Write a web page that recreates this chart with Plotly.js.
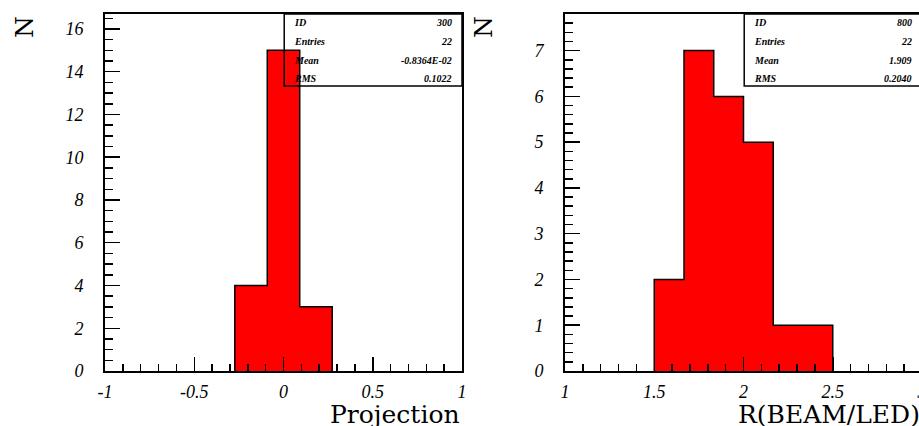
<!DOCTYPE html>
<html>
<head>
<meta charset="utf-8">
<script src="https://cdn.plot.ly/plotly-3.0.1.min.js"></script>
<style>
html,body{margin:0;padding:0;overflow:hidden;background:#fff;}
#chart{width:930px;height:426px;}
</style>
</head>
<body>
<div id="chart"></div>
<script>
// ---- data ----
const binEdges1 = [-0.2727, -0.0909, 0.0909, 0.2727];
const counts1 = [4, 15, 3];
const binEdges2 = [1.5, 1.6667, 1.8333, 2.0, 2.1667, 2.3333, 2.5];
const counts2 = [2, 7, 6, 5, 1, 1];

const xTickVals1 = [-1, -0.5, 0, 0.5, 1];
const xTickText1 = ['-1', '-0.5', '0', '0.5', '1'];
const yTickVals1 = [0, 2, 4, 6, 8, 10, 12, 14, 16];
const yTickText1 = ['0', '2', '4', '6', '8', '10', '12', '14', '16'];
const xTickVals2 = [1, 1.5, 2, 2.5, 3];
const xTickText2 = ['1', '1.5', '2', '2.5', '3'];
const yTickVals2 = [0, 1, 2, 3, 4, 5, 6, 7];
const yTickText2 = ['0', '1', '2', '3', '4', '5', '6', '7'];

const statLabels = ['ID', 'Entries', 'Mean', 'RMS'];
const stats1 = ['300', '22', '-0.8364E-02', '0.1022'];
const stats2 = ['800', '22', '1.909', '0.2040'];

const xTitle1 = 'Projection';
const xTitle2 = 'R(BEAM/LED)';
const yTitle = 'N';

// ---- build ----
function step(edges, counts) {
  const xs = [edges[0]], ys = [0];
  for (let i = 0; i < counts.length; i++) { xs.push(edges[i]); ys.push(counts[i]); }
  xs.push(edges[edges.length - 1]); ys.push(0);
  return {xs, ys};
}
const s1 = step(binEdges1, counts1);
const s2 = step(binEdges2, counts2);

const W = 930, H = 426;
const px = v => v / W;
const py = v => 1 - v / H;

const traces = [
  {x: s1.xs, y: s1.ys, xaxis: 'x', yaxis: 'y', type: 'scatter', mode: 'lines',
   line: {shape: 'hv', color: '#000', width: 1.5}, fill: 'tozeroy', fillcolor: '#ff0000',
   hoverinfo: 'none'},
  {x: s2.xs, y: s2.ys, xaxis: 'x2', yaxis: 'y2', type: 'scatter', mode: 'lines',
   line: {shape: 'hv', color: '#000', width: 1.5}, fill: 'tozeroy', fillcolor: '#ff0000',
   hoverinfo: 'none'}
];

const tickFont = {family: 'Liberation Serif', size: 18, color: '#000', style: 'italic', weight: 400};
function xax(domain, range, vals, text, anchor) {
  return {domain, range, anchor, tickmode: 'array', tickvals: vals, ticktext: text, ticks: 'inside',
    ticklen: 14, tickwidth: 1.5, tickcolor: '#000', showline: true, linecolor: '#000',
    linewidth: 2, mirror: true, showgrid: false, zeroline: false, tickfont: tickFont,
    ticklabelstandoff: 3,
    minor: {dtick: 0.1, tick0: 0, ticks: 'inside', ticklen: 7, tickwidth: 1.5, tickcolor: '#000', showgrid: false}};
}
function yax(domain, range, vals, text, anchor, mdt) {
  return {domain, range, anchor, tickmode: 'array', tickvals: vals, ticktext: text, ticks: 'inside',
    ticklen: 15, tickwidth: 1.5, tickcolor: '#000', showline: true, linecolor: '#000',
    linewidth: 2, mirror: true, showgrid: false, zeroline: false, tickfont: tickFont,
    ticklabelstandoff: 16,
    minor: {dtick: mdt, tick0: 0, ticks: 'inside', ticklen: 8, tickwidth: 1.5, tickcolor: '#000', showgrid: false}};
}

const yd = [py(371), py(14)];
const layout = {
  width: W, height: H, margin: {l: 0, r: 0, t: 0, b: 0},
  font: {family: 'Liberation Serif', size: 18, color: '#000'},
  paper_bgcolor: '#fff', plot_bgcolor: '#fff', showlegend: false,
  xaxis: xax([px(105), px(462)], [-1, 1], xTickVals1, xTickText1, 'y'),
  yaxis: yax(yd, [0, 16.7], yTickVals1, yTickText1, 'x', 0.5),
  xaxis2: xax([px(565), px(922)], [1, 3], xTickVals2, xTickText2, 'y2'),
  yaxis2: yax(yd, [0, 7.8], yTickVals2, yTickText2, 'x2', 0.2),
  shapes: [], annotations: []
};

const titleFont = {family: 'DejaVu Serif', size: 25, color: '#000'};
const statFont = {family: 'Liberation Serif', size: 10, color: '#000', style: 'italic', weight: 'bold'};
const rowY = [0.975, 0.922, 0.870, 0.818];

[['x', 'y', stats1, xTitle1, 24], ['x2', 'y2', stats2, xTitle2, 483]].forEach(([xa, ya, st, xt, nx]) => {
  layout.shapes.push({type: 'rect', xref: xa + ' domain', yref: ya + ' domain',
    x0: 0.502, x1: 1, y0: 0.798, y1: 1, line: {color: '#000', width: 1.5}, fillcolor: 'rgba(0,0,0,0)'});
  statLabels.forEach((lab, i) => {
    layout.annotations.push({xref: xa + ' domain', yref: ya + ' domain', x: 0.525, y: rowY[i],
      xanchor: 'left', yanchor: 'middle', text: lab, showarrow: false, font: statFont});
    layout.annotations.push({xref: xa + ' domain', yref: ya + ' domain', x: 0.977, y: rowY[i],
      xanchor: 'right', yanchor: 'middle', text: st[i], showarrow: false, font: statFont});
  });
  layout.annotations.push({xref: xa + ' domain', yref: 'paper', x: 1, y: py(414),
    xanchor: 'right', yanchor: 'middle', text: xt, showarrow: false, font: titleFont});
  layout.annotations.push({xref: 'paper', yref: 'paper', x: px(nx), y: py(27),
    xanchor: 'center', yanchor: 'middle', text: yTitle, textangle: -90, showarrow: false, font: titleFont});
});

Plotly.newPlot('chart', traces, layout, {displayModeBar: false, staticPlot: true});
</script>
</body>
</html>
